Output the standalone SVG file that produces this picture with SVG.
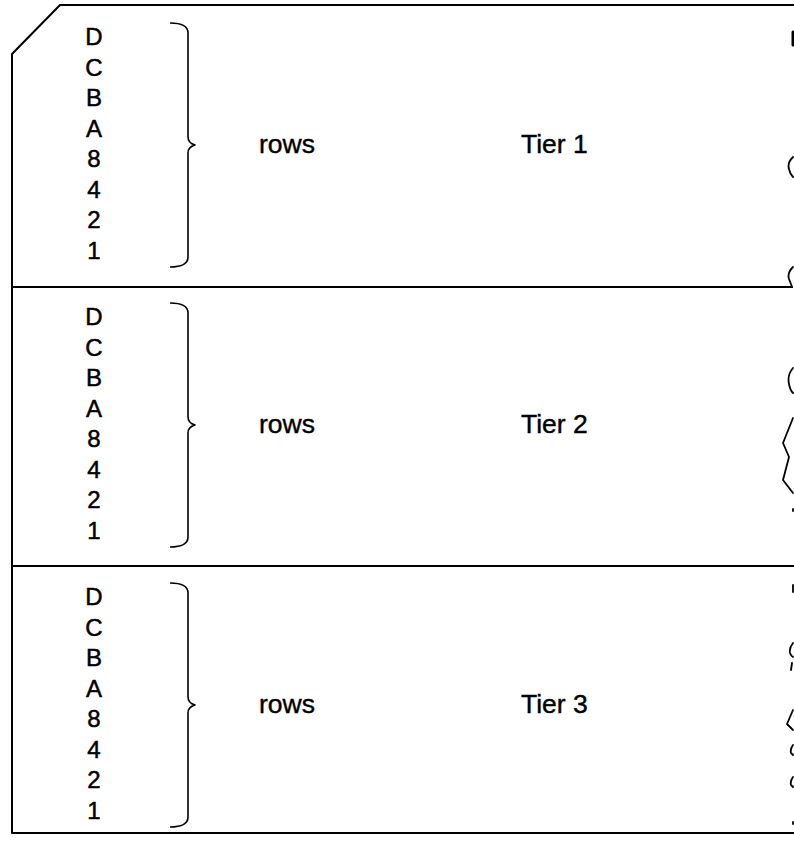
<svg xmlns="http://www.w3.org/2000/svg" width="794" height="843" viewBox="0 0 794 843">
<style>
.ln{fill:none;stroke:#000;stroke-width:2;stroke-linejoin:round;stroke-linecap:round}
.br{fill:none;stroke:#000;stroke-width:1.6;stroke-linejoin:round}
.bk{fill:none;stroke:#000;stroke-width:1.8;stroke-linecap:round;stroke-linejoin:round}
.ch{font-family:"Liberation Sans",Arial,sans-serif;font-size:24px;fill:#000;stroke:#000;stroke-width:0.5;text-anchor:middle}
.lb{font-family:"Liberation Sans",Arial,sans-serif;font-size:26.5px;fill:#000;stroke:#000;stroke-width:0.4}
</style>
<defs>
<g id="tierContent">
<text class="ch" x="94" y="45">D</text>
<text class="ch" x="94" y="75.5">C</text>
<text class="ch" x="94" y="106">B</text>
<text class="ch" x="94" y="136.5">A</text>
<text class="ch" x="94" y="167">8</text>
<text class="ch" x="94" y="197.5">4</text>
<text class="ch" x="94" y="228">2</text>
<text class="ch" x="94" y="258.5">1</text>
<path class="br" d="M170,23 Q188,23 188,33 L188,137 Q188,143 195,145 Q188,147 188,153 L188,257 Q188,267 170,267"/>
<text class="lb" x="259" y="153">rows</text>
</g>
</defs>
<g id="outline">
<path class="ln" d="M794,5 L60,5 L12,54 L12,833 L794,833"/>
<line class="ln" x1="12" y1="287" x2="792" y2="287"/>
<line class="ln" x1="12" y1="566" x2="794" y2="566"/>
</g>
<g id="tier1">
<use href="#tierContent"/>
<text class="lb" x="521" y="153">Tier 1</text>
</g>
<g id="tier2">
<use href="#tierContent" transform="translate(0,280)"/>
<text class="lb" x="521" y="433">Tier 2</text>
</g>
<g id="tier3">
<use href="#tierContent" transform="translate(0,560)"/>
<text class="lb" x="521" y="713">Tier 3</text>
</g>
<g id="breaks">
<path class="bk" d="M793,32 L793,45" style="stroke-width:3"/>
<path class="bk" d="M793,157 Q787,163 789,169 Q790,174 793,177"/>
<path class="bk" d="M793,267 Q787,273 789,279 Q791,284 792,287"/>
<path class="bk" d="M793,368 Q787,375 789,384 Q790,390 793,393"/>
<path class="bk" d="M793,418 L783,443 L789,457 L783,480 L793,493"/>
<path class="bk" d="M793,509 L793,511"/>
<path class="bk" d="M793,585 L793,592"/>
<path class="bk" d="M793,643 Q789,648 790,653 Q791,656 793,657"/>
<path class="bk" d="M792,663 L791,670"/>
<path class="bk" d="M793,710 L787,724 L793,730"/>
<path class="bk" d="M793,745 Q790,749 791,753 L793,755"/>
<path class="bk" d="M793,777 Q790,781 791,785 L793,787"/>
<path class="bk" d="M793,822 L793,824"/>
</g>
</svg>
